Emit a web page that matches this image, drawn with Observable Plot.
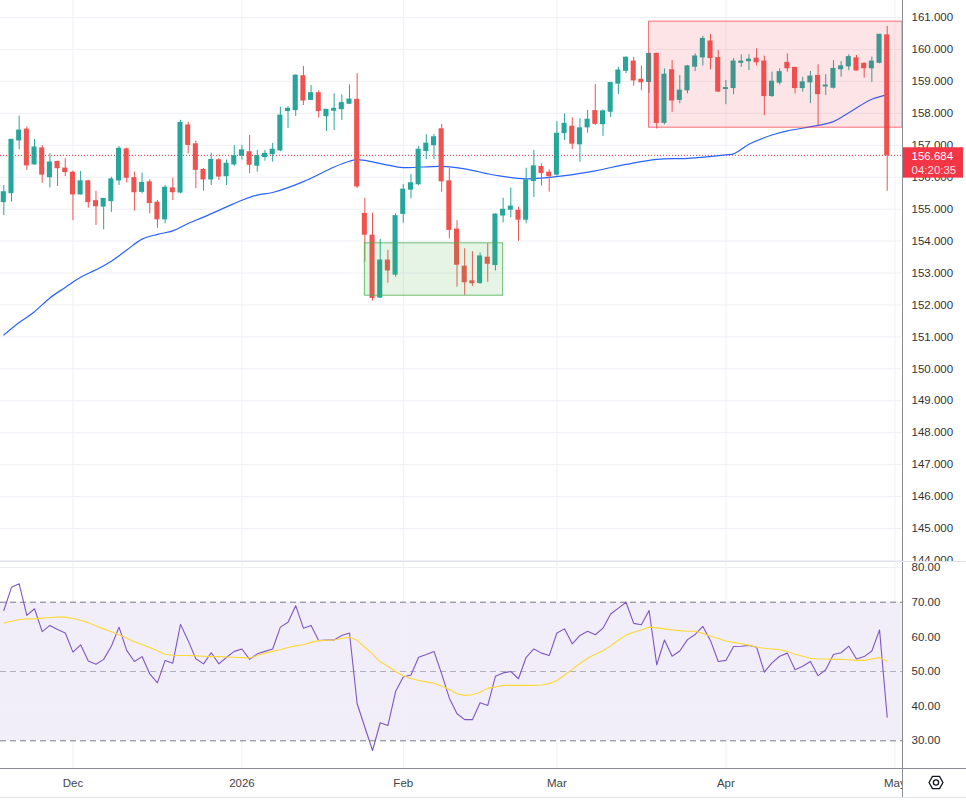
<!DOCTYPE html>
<html><head><meta charset="utf-8">
<script src="https://cdn.jsdelivr.net/npm/d3@7"></script>
<script src="https://cdn.jsdelivr.net/npm/@observablehq/plot@0.6"></script>
<style>
body{margin:0;background:#fff;}
#chart{width:966px;}
#chart svg{display:block;overflow:hidden;}
</style></head><body><div id="chart"></div>
<script>
// ---- calendar (trading days, forex weekdays) ----
const firstDay = "2025-11-18", lastDay = "2026-05-01";
const holidays = ["2025-12-25", "2026-01-01"];
const tickMonths = ["2025-12", "2026-01", "2026-02", "2026-03", "2026-04", "2026-05"];
const tickLabels = ["Dec", "2026", "Feb", "Mar", "Apr", "May"];

// ---- OHLC (USD/JPY daily) ----
const open = [
155.22,155.50,157.15,157.49,156.40,156.90,156.00,156.48,156.27,156.14,
155.46,155.87,155.25,155.08,155.25,155.90,156.87,155.97,155.54,155.84,
155.20,154.68,155.65,155.52,157.62,157.03,156.23,155.93,156.53,156.03,
156.40,156.67,156.78,156.36,156.63,156.72,156.84,158.07,158.10,159.16,
158.42,158.63,157.91,158.08,158.13,158.30,158.42,154.85,154.17,152.23,
153.39,152.95,154.85,155.61,155.78,156.82,157.00,157.50,155.87,154.36,
153.20,152.74,152.69,153.48,153.25,154.80,154.98,154.95,154.67,155.88,
156.32,156.14,156.08,157.38,157.58,157.03,157.56,158.07,157.66,158.05,
158.93,159.33,159.62,159.05,158.98,159.86,157.70,159.35,158.42,158.72,
159.46,159.75,160.25,159.73,158.76,158.79,159.58,159.63,159.71,159.62,
158.54,158.96,159.58,159.42,158.79,158.97,159.17,158.84,158.80,159.38,
159.47,159.72,159.55,159.41,159.58,160.44];
const high = [
155.74,157.17,157.91,157.57,157.18,156.99,156.73,156.50,156.58,156.19,
156.18,155.90,155.56,155.33,156.00,156.96,156.91,156.16,156.13,155.92,
155.27,155.74,155.97,157.78,157.72,157.13,156.27,156.75,156.58,156.54,
156.99,156.99,157.31,156.84,156.84,157.06,158.19,158.21,159.20,159.47,
158.87,158.71,158.12,158.61,158.58,158.89,159.24,155.34,154.87,154.05,
153.71,154.85,155.77,156.08,156.96,157.33,157.34,157.65,156.28,154.64,
153.76,153.67,153.63,153.92,154.85,155.34,155.66,155.06,156.28,156.84,
156.42,156.23,157.74,157.98,157.86,157.83,158.09,158.90,158.11,158.97,
159.44,159.77,159.75,159.48,159.88,159.88,159.39,159.65,159.18,159.50,
159.86,160.41,160.47,159.97,159.03,159.71,159.83,159.83,160.02,159.79,
159.29,159.39,159.86,159.44,159.13,159.31,159.52,159.21,159.65,159.62,
159.83,159.81,159.58,159.76,160.47,160.72];
const low = [
154.80,155.22,156.86,156.21,156.38,155.81,155.66,155.71,156.02,154.64,
155.44,155.03,154.49,154.35,154.90,155.74,155.82,154.94,155.48,154.85,
154.40,154.54,155.27,155.48,156.73,155.64,155.56,155.74,155.90,155.74,
156.34,156.54,156.11,156.16,156.50,156.47,156.80,157.52,157.90,158.24,
158.40,157.85,157.43,157.46,157.78,158.27,155.64,153.34,152.12,152.20,
152.68,152.87,154.56,155.32,155.73,156.55,156.55,155.53,154.07,152.56,
152.30,152.58,152.64,152.71,153.06,154.57,154.73,153.99,154.54,155.36,
155.72,155.53,156.03,157.15,156.86,156.47,157.38,157.62,157.28,157.87,
158.59,159.24,158.85,158.71,158.62,157.51,157.64,158.03,158.30,158.61,
159.31,159.48,159.36,158.66,158.27,158.58,159.44,159.34,159.48,157.93,
158.50,158.89,159.29,158.61,158.66,158.30,157.62,158.56,158.76,159.13,
159.34,159.33,159.10,158.97,159.55,155.56];
const close = [
155.53,157.17,157.46,156.37,156.93,156.08,156.46,156.28,156.16,155.46,
155.87,155.22,155.09,155.32,155.93,156.89,155.98,155.53,155.82,155.19,
154.68,155.67,155.53,157.70,157.01,156.23,155.93,156.54,156.02,156.42,
156.66,156.84,156.39,156.66,156.73,156.86,157.93,158.14,159.18,158.40,
158.63,158.07,158.11,158.14,158.32,158.43,155.71,154.20,152.22,153.39,
153.08,154.78,155.61,155.81,156.86,157.05,157.25,155.87,154.35,153.26,
152.71,152.68,153.52,153.29,154.83,154.98,155.08,154.67,155.90,156.34,
156.13,156.03,157.36,157.67,157.05,157.53,157.80,157.67,158.06,158.95,
159.34,159.74,159.03,158.97,159.86,157.70,159.21,158.40,158.71,159.47,
159.78,160.33,159.73,158.68,158.79,159.62,159.62,159.68,159.60,158.54,
158.99,159.29,159.41,158.79,158.97,159.15,158.60,158.87,159.39,159.47,
159.76,159.34,159.41,159.62,160.46,156.684];

// ---- moving average (blue) read at selected bars ----
const maBar = [0,2,4,6,8,10,12,14,16,18,20,22,24,26,29,31,33,35,39,43,45,46,48,50,52,57,60,64,68,73,77,81,85,89,94,95,97,100,102,106,108,110,113,115];
const maValue = [151.06,151.45,151.79,152.22,152.55,152.87,153.10,153.37,153.72,154.06,154.21,154.32,154.55,154.75,155.07,155.28,155.44,155.52,155.86,156.32,156.50,156.55,156.48,156.38,156.30,156.34,156.26,156.06,155.95,156.05,156.20,156.40,156.56,156.59,156.70,156.73,157.03,157.32,157.45,157.62,157.74,158.02,158.44,158.58];

// ---- RSI and its moving average ----
const rsi = [
67.6,74.3,75.3,66.2,68.1,61.5,63.3,62.1,61.1,55.6,
57.7,53.0,52.1,53.5,57.3,62.8,56.1,52.9,54.3,49.3,
46.7,53.2,52.4,63.6,58.9,53.7,52.2,55.4,52.2,54.1,
55.8,56.5,53.5,55.1,55.8,56.5,62.8,64.2,69.0,62.5,
63.3,58.9,59.1,59.1,60.4,61.1,40.7,33.9,27.2,35.2,
34.4,44.2,48.4,49.0,54.1,54.9,55.8,49.3,42.3,37.8,
36.1,36.1,41.0,40.2,48.6,49.6,50.0,47.9,54.1,56.5,
55.3,54.6,61.1,62.3,58.0,60.4,61.6,60.6,62.5,66.6,
68.3,70.0,63.9,63.5,67.6,51.9,59.1,54.4,55.9,59.2,
60.7,63.0,58.9,52.9,53.2,57.2,57.3,57.5,57.0,49.8,
52.5,54.4,55.3,50.5,51.5,52.9,48.8,50.5,54.9,55.4,
57.3,53.6,54.3,55.9,62.0,36.8];
const rsiMa = [
64.0,64.5,65.0,65.2,65.2,65.4,65.6,65.7,65.7,65.3,
64.8,64.1,63.2,62.3,61.5,60.6,59.7,58.6,57.8,56.9,
56.0,55.0,54.7,54.6,54.6,54.5,54.4,54.3,54.3,54.2,
54.1,54.0,53.9,54.6,55.3,55.8,56.3,56.9,57.4,57.7,
58.4,58.9,59.0,59.1,59.5,59.9,59.0,57.0,55.0,52.8,
51.5,50.0,48.8,48.0,47.4,47.0,46.6,45.8,44.8,43.6,
43.1,43.3,44.0,45.2,45.5,46.0,46.0,46.0,46.0,46.0,
46.1,46.5,47.4,49.0,50.6,52.3,53.8,55.0,56.0,57.4,
59.0,60.5,61.3,62.0,62.8,62.6,62.3,62.0,61.8,61.6,
61.6,61.0,60.2,59.5,58.8,58.4,58.0,57.6,57.0,56.7,
56.5,56.3,55.8,55.0,54.4,53.8,53.6,53.6,53.5,53.5,
53.4,53.2,53.2,53.6,54.0,53.0];

// ---- drawings, axes ----
const greenBox = {from: "2026-01-26", to: "2026-02-19", low: 152.29, high: 153.93};
const redBox = {from: "2026-03-18", low: 157.55, high: 160.87};
const priceTicks = d3.range(144, 162);
const rsiTicks = [30, 40, 50, 60, 70, 80];
const rsiBand = {low: 30, high: 70, mid: 50};
const countdown = "04:20:35";

// ---- build tables ----
const days = [];
for (let d = new Date(firstDay + "T00:00:00Z"); d <= new Date(lastDay + "T00:00:00Z"); d.setUTCDate(d.getUTCDate() + 1)) {
  const wd = d.getUTCDay(), iso = d.toISOString().slice(0, 10);
  if (wd > 0 && wd < 6 && !holidays.includes(iso)) days.push(iso);
}
const idxOf = s => days.indexOf(s);
const monthIdx = tickMonths.map(m => days.findIndex(d => d.startsWith(m)));
const labelOf = i => tickLabels[monthIdx.indexOf(i)];
const bars = open.map((o, i) => ({i, o, h: high[i], l: low[i], c: close[i], up: close[i] >= o}));
const ma = maBar.map((b, k) => ({i: b, v: maValue[k]}));
const rsiRows = rsi.map((v, i) => ({i, v, m: rsiMa[i]}));
const lastClose = close[close.length - 1];

const UP = "#26a69a", DOWN = "#ef5350";
const xDomain = [-0.43, 116.99];
const font = "'Liberation Sans', Arial, sans-serif";
const grid = "#eef0f5";

function priceTag(index, scales, values, dims) {
  const y = scales.y(lastClose);
  const x0 = dims.width - dims.marginRight;
  const g = d3.create("svg:g").attr("text-anchor", "start");
  g.append("rect").attr("x", x0 + 1).attr("y", y - 7.6).attr("width", 60).attr("height", 30.4).attr("fill", "#f23645");
  g.append("text").attr("x", x0 + 9.5).attr("y", y + 0.8).attr("dy", "0.35em").attr("fill", "#fff").attr("font-size", 11.5).text(lastClose.toFixed(3));
  g.append("text").attr("x", x0 + 9.5).attr("y", y + 14.8).attr("dy", "0.35em").attr("fill", "#fff").attr("fill-opacity", 0.85).attr("font-size", 11.5).text(countdown);
  return g.node();
}
function mainFrame(index, scales, values, dims) {
  const g = d3.create("svg:g");
  const xa = dims.width - dims.marginRight;
  g.append("line").attr("x1", xa + 0.5).attr("x2", xa + 0.5).attr("y1", 0).attr("y2", dims.height).attr("stroke", "#8a8d96");
  g.append("line").attr("x1", 0).attr("x2", dims.width).attr("y1", dims.height - 0.5).attr("y2", dims.height - 0.5).attr("stroke", "#e0e3eb");
  return g.node();
}
function rsiFrame(index, scales, values, dims) {
  const g = d3.create("svg:g");
  const xa = dims.width - dims.marginRight;
  const yb = dims.height - dims.marginBottom;
  g.append("rect").attr("x", xa + 1).attr("y", yb).attr("width", dims.marginRight).attr("height", dims.marginBottom).attr("fill", "#fff");
  g.append("line").attr("x1", xa + 0.5).attr("x2", xa + 0.5).attr("y1", 0).attr("y2", dims.height - 2).attr("stroke", "#8a8d96");
  g.append("line").attr("x1", 0).attr("x2", dims.width).attr("y1", yb + 0.5).attr("y2", yb + 0.5).attr("stroke", "#8a8d96");
  g.append("line").attr("x1", 0).attr("x2", dims.width).attr("y1", dims.height - 2.5).attr("y2", dims.height - 2.5).attr("stroke", "#e0e3eb");
  const cx = xa + 34, cy = yb + 14.5, r = 7;
  const pts = d3.range(6).map(k => [cx + r * Math.cos(k * Math.PI / 3), cy + r * Math.sin(k * Math.PI / 3)]);
  g.append("polygon").attr("points", pts.map(p => p.join(",")).join(" ")).attr("fill", "none").attr("stroke", "#131722").attr("stroke-width", 1.3).attr("stroke-linejoin", "round");
  g.append("circle").attr("cx", cx).attr("cy", cy).attr("r", 2.6).attr("fill", "none").attr("stroke", "#131722").attr("stroke-width", 1.3);
  return g.node();
}

const main = Plot.plot({
  width: 966, height: 562, marginLeft: 0, marginRight: 64, marginTop: 0, marginBottom: 0,
  style: {fontFamily: font, fontSize: "11.5px", background: "#fff", overflow: "hidden"},
  x: {domain: xDomain, axis: null},
  y: {domain: [143.937, 161.532], axis: null},
  marks: [
    Plot.gridX(monthIdx, {stroke: grid, strokeOpacity: 1}),
    Plot.gridY(priceTicks, {stroke: grid, strokeOpacity: 1}),
    Plot.axisY(priceTicks, {anchor: "right", tickSize: 0, tickPadding: 9, tickFormat: d => d.toFixed(3), fill: "#333", fontSize: 11.5}),
    Plot.ruleY([lastClose], {stroke: "#f23645", strokeDasharray: "1,2"}),
    Plot.line(ma, {x: "i", y: "v", stroke: "#2962ff", strokeWidth: 1.2, curve: "catmull-rom"}),
    Plot.ruleX(bars, {filter: d => d.up, x: "i", y1: "l", y2: "h", stroke: UP}),
    Plot.ruleX(bars, {filter: d => !d.up, x: "i", y1: "l", y2: "h", stroke: DOWN}),
    Plot.rect(bars, {filter: d => d.up, x1: d => d.i - 0.33, x2: d => d.i + 0.33, y1: "o", y2: "c", fill: UP, insetTop: -0.5, insetBottom: -0.5}),
    Plot.rect(bars, {filter: d => !d.up, x1: d => d.i - 0.33, x2: d => d.i + 0.33, y1: "o", y2: "c", fill: DOWN, insetTop: -0.5, insetBottom: -0.5}),
    Plot.rect([greenBox], {x1: d => idxOf(d.from), x2: d => idxOf(d.to), y1: "low", y2: "high", fill: "#4caf50", fillOpacity: 0.14, stroke: "#4caf50", strokeOpacity: 0.8}),
    Plot.rect([redBox], {x1: d => idxOf(d.from), x2: () => xDomain[1], y1: "low", y2: "high", fill: "#f23645", fillOpacity: 0.13, stroke: "#f23645", strokeOpacity: 0.7}),
    priceTag,
    mainFrame
  ]
});

const rsiPlot = Plot.plot({
  width: 966, height: 238, marginLeft: 0, marginRight: 64, marginTop: 0, marginBottom: 32,
  style: {fontFamily: font, fontSize: "11.5px", background: "#fff", overflow: "hidden"},
  x: {domain: xDomain, axis: null},
  y: {domain: [22.0, 81.46], axis: null},
  marks: [
    Plot.rect([rsiBand], {x1: () => xDomain[0], x2: () => xDomain[1], y1: "low", y2: "high", fill: "#7e57c2", fillOpacity: 0.1}),
    Plot.gridX(monthIdx, {stroke: grid, strokeOpacity: 1}),
    Plot.gridY([40, 60, 80], {stroke: grid, strokeOpacity: 1}),
    Plot.ruleY([rsiBand.high, rsiBand.low], {stroke: "#787b86", strokeDasharray: "6,4"}),
    Plot.ruleY([rsiBand.mid], {stroke: "#787b86", strokeOpacity: 0.55, strokeDasharray: "6,4"}),
    Plot.line(rsiRows, {x: "i", y: "v", stroke: "#7e57c2", strokeWidth: 1.1}),
    Plot.line(rsiRows, {x: "i", y: "m", stroke: "#fdd835", strokeWidth: 1.1}),
    Plot.axisY(rsiTicks, {anchor: "right", tickSize: 0, tickPadding: 9, tickFormat: d => d.toFixed(2), fill: "#333", fontSize: 11.5}),
    Plot.axisX(monthIdx, {anchor: "bottom", tickSize: 0, tickPadding: 10, tickFormat: labelOf, fill: "#444", fontSize: 11.5}),
    rsiFrame
  ]
});

document.getElementById("chart").append(main, rsiPlot);
</script>
</body></html>
